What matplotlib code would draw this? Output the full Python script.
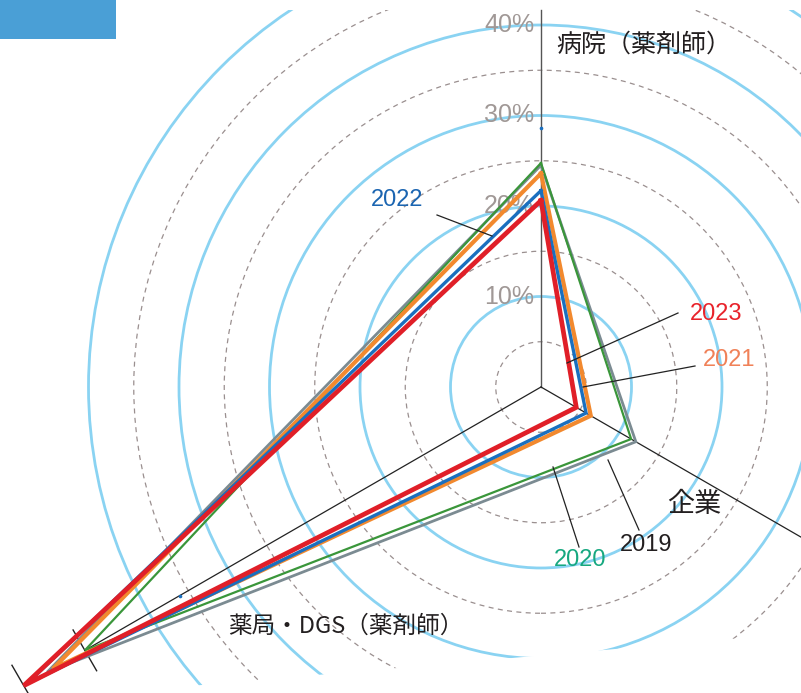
import numpy as np
import matplotlib
matplotlib.use('Agg')
import matplotlib.pyplot as plt
from matplotlib.patches import Circle, Polygon, Rectangle

plt.rcParams['font.family'] = ['Noto Sans CJK JP', 'DejaVu Sans']

# データ（%）
axes_labels = ['病院（薬剤師）', '企業', '薬局・DGS（薬剤師）']
angles_deg = [90, -30, 210]
years = ['2019', '2020', '2021', '2022', '2023']
v2019 = [24.5, 12.1, 63.0]
v2020 = [24.75, 11.5, 58.2]
v2021 = [23.6, 6.35, 62.3]
v2022 = [21.7, 5.75, 65.6]
v2023 = [20.6, 4.5, 66.0]
values = [v2019, v2020, v2021, v2022, v2023]
line_colors = ['#7b8b92', '#3a963a', '#f2892e', '#1a6fbf', '#e01f28']
line_widths = [2.0, 1.6, 3.0, 2.4, 3.4]
label_colors = ['#231f20', '#17a880', '#f08158', '#1b65b1', '#e8232b']
grid_pct = [5, 10, 15, 20, 25, 30, 35, 40, 45, 50]
tick_pct = [10, 20, 30, 40]

W, H = 801, 693
cx, cy = 541, 387
s = 9.05  # px per %
num_font = ['Liberation Sans', 'DejaVu Sans']


def px(x, y):
    # ピクセル座標 -> データ座標
    return (x - cx) / s, (cy - y) / s


def polar(r, a):
    t = np.deg2rad(a)
    return r * np.cos(t), r * np.sin(t)


fig = plt.figure(figsize=(W / 100, H / 100), dpi=100)
ax = fig.add_axes([0, 0, 1, 1])
ax.set_xlim(-cx / s, (W - cx) / s)
ax.set_ylim(-(H - cy) / s, cy / s)
ax.axis('off')

# 左上の帯
x0, y0 = px(0, 39)
x1, y1 = px(116, 0)
ax.add_patch(Rectangle((x0, y0), x1 - x0, y1 - y0, color='#4a9fd6', lw=0, zorder=1))

# 同心円（クリップ付き）
clip = Polygon([px(-5, 10), px(806, 10), px(806, 632.4), px(-5, 703)],
               closed=True, transform=ax.transData)
for g in grid_pct:
    if g % 10 == 0:
        c = Circle((0, 0), g, fill=False, ec='#8ad3f2', lw=2.0, zorder=2)
    else:
        c = Circle((0, 0), g, fill=False, ec='#9a8f8f', lw=0.9,
                   ls=(0, (4, 3.5)), zorder=2)
    ax.add_patch(c)
    c.set_clip_path(clip)

# 軸線
ax.plot([0, 0], [0, px(0, 10)[1]], color='#555555', lw=1.0, zorder=3)
ex, ey = polar(60, -30)
ax.plot([0, ex], [0, ey], color='#222222', lw=0.9, zorder=3)
bx, by = polar(58.2, 210)
ax.plot([0, bx], [0, by], color='#222222', lw=0.9, zorder=3)

# 軸の切れ目マーク
for r in [58.2, 66.0]:
    mx, my = polar(r, 210)
    dx, dy = polar(2.6, 120)
    ax.plot([mx - dx, mx + dx], [my - dy, my + dy], color='#222222', lw=1.0, zorder=3)

# 目盛ラベル
for t in tick_pct:
    ax.text(px(534, 0)[0], t, f'{t}%', ha='right', va='center', family=num_font,
            fontsize=18, color='#a09896', zorder=4)

# 系列
for vals, col, lw in zip(values, line_colors, line_widths):
    pts = [polar(v, a) for v, a in zip(vals, angles_deg)]
    pts.append(pts[0])
    xs, ys = zip(*pts)
    ax.plot(xs, ys, color=col, lw=lw, solid_joinstyle='miter', zorder=5)

# 小さな青い点
ax.plot([0, polar(46.1, 210)[0]], [28.6, polar(46.1, 210)[1]], 'o',
        color='#1a6fbf', ms=1.6, zorder=6)

# 軸名
ax.text(*px(556, 45), axes_labels[0], ha='left', va='center',
        fontsize=18, color='#231f20', zorder=7)
ax.text(*px(694, 505), axes_labels[1], ha='center', va='center',
        fontsize=19.5, color='#231f20', zorder=7)
ax.text(*px(346, 626), axes_labels[2], ha='center', va='center',
        fontsize=17, color='#231f20', zorder=7)

# 年ラベルと引き出し線
label_pos = {'2019': (646, 545), '2020': (580, 560), '2021': (729, 360),
             '2022': (397, 200), '2023': (716, 314)}
leaders = {'2019': ((639, 530), (608, 460)), '2020': ((579, 547), (553, 467)),
           '2021': ((695, 366), (583, 387)), '2022': ((437, 215), (492, 236)),
           '2023': ((678, 313), (567, 363))}
for yr, col in zip(years, label_colors):
    ax.text(*px(*label_pos[yr]), yr, ha='center', va='center', family=num_font,
            fontsize=17, color=col, zorder=7)
    (a1, b1), (a2, b2) = leaders[yr]
    p1, p2 = px(a1, b1), px(a2, b2)
    ax.plot([p1[0], p2[0]], [p1[1], p2[1]], color='#222222', lw=0.9, zorder=6)

fig.savefig('out.png', dpi=100)
plt.close('all')
